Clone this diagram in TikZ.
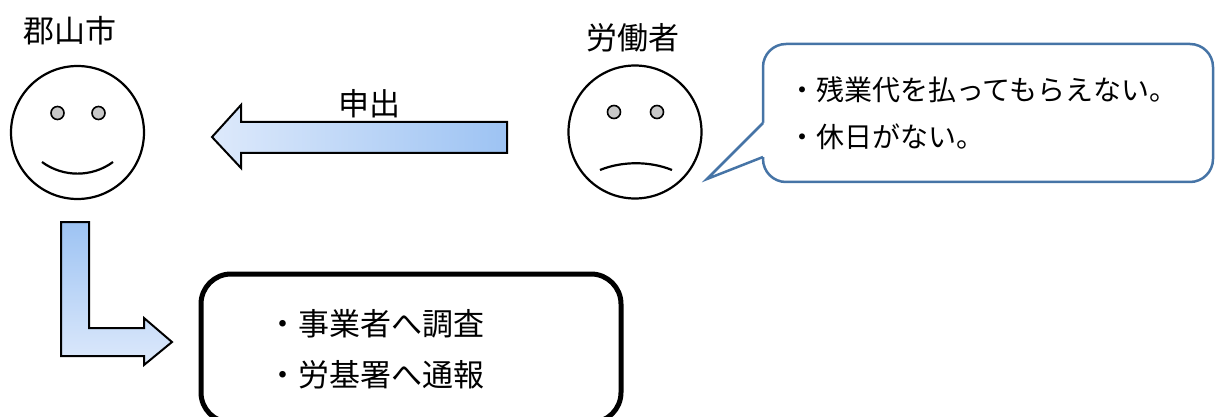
\documentclass[tikz,border=0pt]{standalone}
\usepackage{fontspec}
\setmainfont{Noto Sans CJK JP}
\definecolor{blightA}{RGB}{221,233,251}
\definecolor{bdarkA}{RGB}{157,195,243}
\definecolor{callblue}{RGB}{70,116,166}
\definecolor{eyegray}{RGB}{200,200,200}
\tikzset{
  face/.style={circle,draw=black,line width=2.2pt,minimum size=133pt,inner sep=0pt},
  eye/.style={circle,draw=black,fill=eyegray,line width=1.6pt,minimum size=13pt,inner sep=0pt},
  mouth/.style={draw=black,line width=2.2pt},
  lbl/.style={inner sep=0pt,font=\fontsize{31}{31}\selectfont},
  ltext/.style={inner sep=0pt,anchor=west,font=\fontsize{31}{31}\selectfont},
  ctext/.style={inner sep=0pt,anchor=west,font=\fontsize{28}{28}\selectfont},
  blockarrow/.style={draw=black,line width=2pt,line join=miter},
  callbox/.style={draw=callblue,line width=2.5pt,rounded corners=23pt,fill=white},
  resbox/.style={draw=black,line width=5pt,rounded corners=30pt}
}
\begin{document}
\begin{tikzpicture}[x=1pt,y=-1pt]
\useasboundingbox (0,0) rectangle (1216,417);
% faces
\node[face] (faceL) at (77.5,132.5) {};
\node[eye] (eyeL1) at (57.5,113) {};
\node[eye] (eyeL2) at (98.5,113) {};
\coordinate (smA) at (42,162);
\coordinate (smB) at (113,162);
\draw[mouth] (smA) .. controls (63,177.5) and (92,177.5) .. (smB);
\node[lbl] (cityLbl) at (70,31) {郡山市};

\node[face] (faceR) at (635,132) {};
\node[eye] (eyeR1) at (614,112) {};
\node[eye] (eyeR2) at (657,112) {};
\coordinate (frA) at (600,170);
\coordinate (frB) at (672,170);
\draw[mouth] (frA) .. controls (622,161) and (650,161) .. (frB);
\node[lbl] (workerLbl) at (633,38) {労働者};

% left block arrow
\draw[blockarrow,left color=blightA,right color=bdarkA]
  (212,137) -- (241,105) -- (241,122) -- (507,122) -- (507,153) -- (241,153) -- (241,168) -- cycle;
\node[lbl] (reqLbl) at (369,104) {申出};

% L-shaped block arrow
\draw[blockarrow,top color=bdarkA,bottom color=blightA]
  (61,222) -- (89,222) -- (89,328) -- (144,328) -- (144,318) -- (172,342) -- (144,365) -- (144,356) -- (61,356) -- cycle;

% callout
\draw[callbox] (763,44) rectangle (1213,182);
\coordinate (tailTip) at (707,179);
\coordinate (tailU) at (763,123);
\coordinate (tailD) at (763,157);
\fill[white] (tailTip) -- (tailU) -- (767,123) -- (767,157) -- (tailD) -- cycle;
\draw[callblue,line width=2.5pt,line join=miter] (tailU) -- (tailTip) -- (tailD);
\node[ctext] (c1) at (788,90) {・残業代を払ってもらえない。};
\node[ctext] (c2) at (788,137) {・休日がない。};

% result box
\node[resbox,minimum width=420pt,minimum height=148.5pt,inner sep=0pt] (res) at (411,348.25) {};
\node[ltext] (r1) at (267,324) {・事業者へ調査};
\node[ltext] (r2) at (267,375) {・労基署へ通報};
\end{tikzpicture}
\end{document}
